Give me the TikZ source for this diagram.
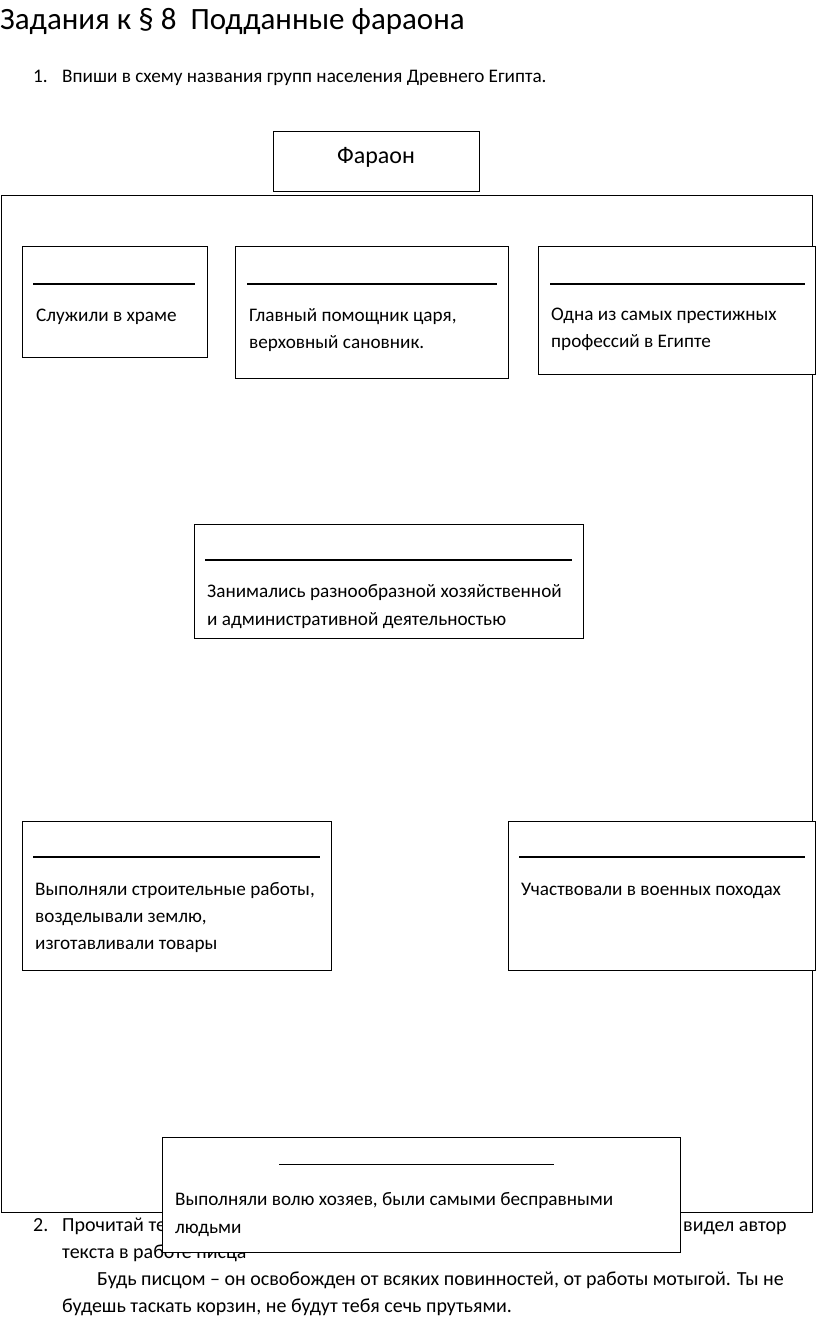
\documentclass[tikz,border=0pt]{standalone}
\usepackage{fontspec}
\setmainfont[Ligatures=TeX]{Carlito}
\begin{document}
\begin{tikzpicture}[x=1pt,y=-1pt,
  box/.style={draw, line width=1.3pt, fill=white, inner sep=0, anchor=north west},
  blank/.style={line width=2.4pt},
  txt/.style={anchor=base west, inner sep=0, font=\fontsize{19.2}{22}\selectfont},
  cond/.style={anchor=base west, inner sep=0, font=\fontsize{20}{24}\selectfont}]
\useasboundingbox (0,0) rectangle (816,1322);
% title
\node[anchor=base west, inner sep=0, font=\fontsize{31}{35}\selectfont] (title) at (0,30) {Задания к § 8\ \ Подданные фараона};
\node[txt] (n1) at (33,82) {1.};
\node[txt] (t1) at (62,82) {Впиши в схему названия групп населения Древнего Египта.};
% pharaoh
\node[box, minimum width=206, minimum height=60] (ph) at (273,131) {};
\node[inner sep=0, font=\fontsize{24}{27}\selectfont, anchor=base] (pht) at (376,163) {Фараон};
% big frame
\node[draw, line width=1pt, inner sep=0, anchor=north west, minimum width=811, minimum height=1017] (frame) at (1,195) {};
% bottom text (under box 7)
\node[cond] (n2) at (33,1231) {2.};
\node[cond] (q1) at (62,1231) {Прочитай те};
\node[cond] (q2) at (683,1231) {видел автор};
\node[cond] (q3) at (62,1258) {текста в работе писца};
\node[cond] (q4) at (97,1285) {Будь писцом – он освобожден от всяких повинностей, от работы мотыгой. Ты не};
\node[cond] (q5) at (62,1312) {будешь таскать корзин, не будут тебя сечь прутьями.};
% box 1
\node[box, minimum width=185, minimum height=111] (b1) at (22,246) {};
\coordinate (l1a) at (33,284); \coordinate (l1b) at (195,284);
\draw[blank] (l1a) -- (l1b);
\node[txt] (t1a) at (36,321) {Служили в храме};
% box 2
\node[box, minimum width=273, minimum height=132] (b2) at (235,246) {};
\coordinate (l2a) at (247,284); \coordinate (l2b) at (497,284);
\draw[blank] (l2a) -- (l2b);
\node[txt] (t2a) at (249,321) {Главный помощник царя,};
\node[txt] (t2b) at (249,348) {верховный сановник.};
% box 3
\node[box, minimum width=277, minimum height=128] (b3) at (538,246) {};
\coordinate (l3a) at (550,284); \coordinate (l3b) at (805,284);
\draw[blank] (l3a) -- (l3b);
\node[txt] (t3a) at (551,320) {Одна из самых престижных};
\node[txt] (t3b) at (551,347) {профессий в Египте};
% box 4
\node[box, minimum width=389, minimum height=114] (b4) at (194,524) {};
\coordinate (l4a) at (205,560); \coordinate (l4b) at (572,560);
\draw[blank] (l4a) -- (l4b);
\node[txt] (t4a) at (207,597) {Занимались разнообразной хозяйственной};
\node[txt] (t4b) at (207,625) {и административной деятельностью};
% box 5
\node[box, minimum width=309, minimum height=149] (b5) at (22,821) {};
\coordinate (l5a) at (33,857); \coordinate (l5b) at (320,857);
\draw[blank] (l5a) -- (l5b);
\node[txt] (t5a) at (35,895) {Выполняли строительные работы,};
\node[txt] (t5b) at (35,922) {возделывали землю,};
\node[txt] (t5c) at (35,949) {изготавливали товары};
% box 6
\node[box, minimum width=307, minimum height=149] (b6) at (508,821) {};
\coordinate (l6a) at (519,857); \coordinate (l6b) at (805,857);
\draw[blank] (l6a) -- (l6b);
\node[txt] (t6a) at (521,895) {Участвовали в военных походах};
% box 7
\node[box, minimum width=518, minimum height=115] (b7) at (162,1137) {};
\coordinate (l7a) at (279,1164); \coordinate (l7b) at (554,1164);
\draw[line width=1pt] (l7a) -- (l7b);
\node[txt] (t7a) at (175,1205) {Выполняли волю хозяев, были самыми бесправными};
\node[txt] (t7b) at (175,1233) {людьми};
\end{tikzpicture}
\end{document}
